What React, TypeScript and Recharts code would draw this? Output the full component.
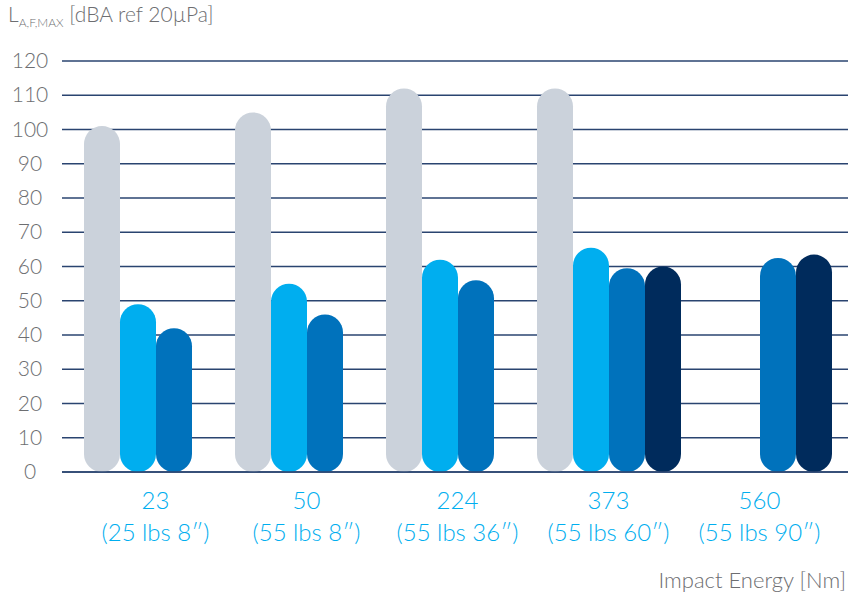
import { BarChart, Bar, XAxis, YAxis, CartesianGrid } from 'recharts';

const categories = ['23', '50', '224', '373', '560'];
const subLabels = ['(25 lbs 8″)', '(55 lbs 8″)', '(55 lbs 36″)', '(55 lbs 60″)', '(55 lbs 90″)'];
const greyValues = [101, 105, 112, 112, null];
const lightValues = [49, 55, 62, 65.5, null];
const midValues = [42, 46, 56, 59.5, 62.5];
const navyValues = [null, null, null, 60, 63.5];
const yTicks = [0, 10, 20, 30, 40, 50, 60, 70, 80, 90, 100, 110, 120];

const data = categories.map((c, i) => ({
    name: c,
    grey: greyValues[i],
    light: lightValues[i],
    mid: midValues[i],
    navy: navyValues[i],
}));

const FONT = 'Lato, "Open Sans", sans-serif';

// pill shaped bar, rounded at both ends
const Pill = (props: any) => {
    const { x, y, width, height, fill } = props;
    if (!height || height <= 0 || x == null) return null;
    return <rect x={x} y={y} width={width} height={height} rx={width / 2} ry={width / 2} fill={fill} />;
};

const YTick = (props: any) => {
    const { y, payload } = props;
    return (
        <text x={30} y={y} dy={7} textAnchor="middle" fontSize={21} fontWeight={300} fill="#6d6e71" fontFamily={FONT}>
            {payload.value}
        </text>
    );
};

const XTick = (props: any) => {
    const { x, y, payload, index } = props;
    return (
        <g>
            <text x={x} y={y + 29} textAnchor="middle" fontSize={24} fontWeight={300} fill="#00aeef" fontFamily={FONT}>
                {payload.value}
            </text>
            <text x={x} y={y + 61} textAnchor="middle" fontSize={24} fontWeight={300} fill="#00aeef" fontFamily={FONT}>
                {subLabels[index]}
            </text>
        </g>
    );
};

export default function App() {
    return (
        <div style={{ position: 'absolute', left: 0, top: 0, width: 848, height: 599, background: '#fff' }}>
            <div style={{ position: 'absolute', left: 8, top: 1, fontFamily: FONT, fontWeight: 300, fontSize: 21, color: '#6d6e71', whiteSpace: 'nowrap' }}>
                L<sub style={{ fontSize: 12 }}>A,F,MAX</sub> [dBA ref 20µPa]
            </div>
            <BarChart
                width={848}
                height={599}
                data={data}
                margin={{ top: 61, right: 0, bottom: 0, left: 0 }}
                barSize={36}
                barGap={0}
            >
                <CartesianGrid vertical={false} stroke="#2a4470" strokeWidth={1.3} />
                <XAxis
                    dataKey="name"
                    axisLine={{ stroke: '#2a4470', strokeWidth: 1.5 }}
                    tickLine={false}
                    tick={<XTick />}
                    interval={0}
                    height={127}
                    padding={{ left: 18, right: 13 }}
                />
                <YAxis
                    domain={[0, 120]}
                    ticks={yTicks}
                    axisLine={false}
                    tickLine={false}
                    tick={<YTick />}
                    width={62}
                    interval={0}
                />
                <Bar dataKey="grey" fill="#cbd2db" shape={<Pill />} isAnimationActive={false} />
                <Bar dataKey="light" fill="#00aeef" shape={<Pill />} isAnimationActive={false} />
                <Bar dataKey="mid" fill="#0072bc" shape={<Pill />} isAnimationActive={false} />
                <Bar dataKey="navy" fill="#002b5c" shape={<Pill />} isAnimationActive={false} />
            </BarChart>
            <div style={{ position: 'absolute', right: 2, top: 566, fontFamily: FONT, fontWeight: 300, fontSize: 22, color: '#6d6e71', whiteSpace: 'nowrap' }}>
                Impact Energy [Nm]
            </div>
        </div>
    );
}
